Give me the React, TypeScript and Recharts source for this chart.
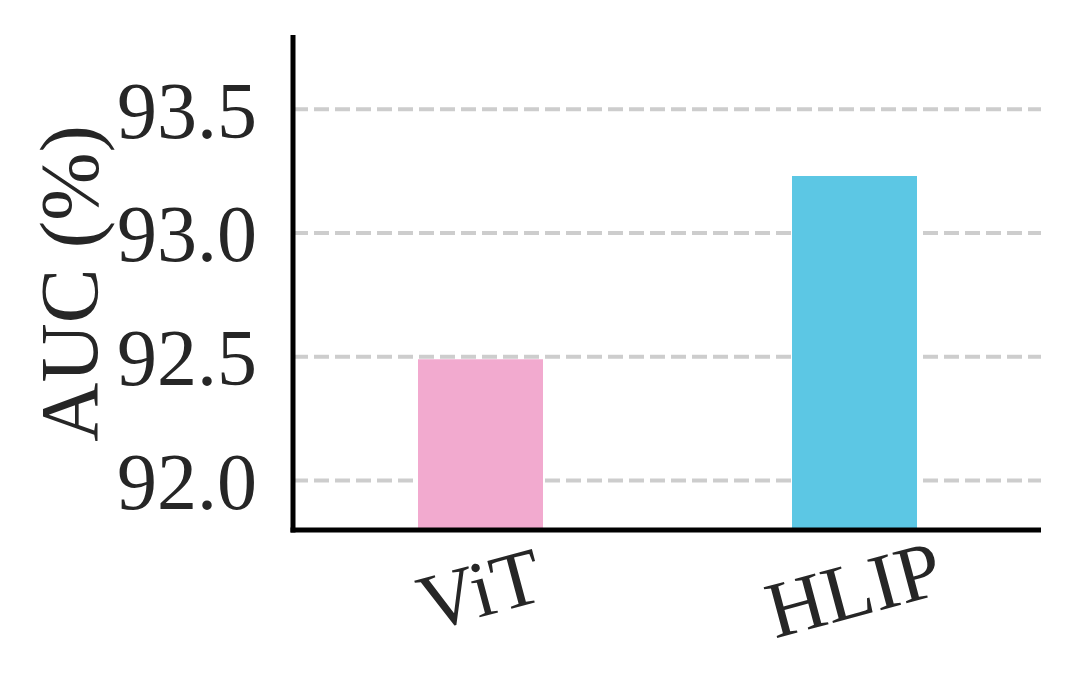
import { BarChart, Bar, XAxis, YAxis, CartesianGrid, Cell } from "recharts";

document.body.style.margin = "0";

const models = ["ViT", "HLIP"];
const aucValues = [92.49, 93.23];
const barColors = ["#F2AACF", "#5CC7E4"];
const yTicks = [92.0, 92.5, 93.0, 93.5];

const data = models.map((name, i) => ({ name, auc: aucValues[i] }));

const W = 1077;
const H = 698;
const M = { top: 35, right: 36, left: 0 };
const Y_AXIS_W = 293;
const X_AXIS_H = 168;

const FONT = "Liberation Serif, serif";
const INK = "#262626";

function XTick(props: any) {
  const { x, y, payload } = props;
  const cy = y + 60;
  return (
    <text
      x={x}
      y={cy}
      dy="0.33em"
      textAnchor="middle"
      style={{ fontFamily: FONT, fontSize: 80 }}
      fill={INK}
      transform={`rotate(-15, ${x}, ${cy})`}
    >
      {payload.value}
    </text>
  );
}

function YLabel(props: any) {
  const vb = props.viewBox || { x: 0, y: 35, width: 293, height: 495 };
  const cx = 97;
  const cy = vb.y + vb.height / 2 + 1;
  return (
    <text
      x={cx}
      y={cy}
      textAnchor="middle"
      style={{ fontFamily: FONT, fontSize: 82 }}
      fill={INK}
      transform={`rotate(-90, ${cx}, ${cy})`}
    >
      AUC (%)
    </text>
  );
}

// dashed grid line, drawn by hand so the stroke settings stick
function GridLine(props: any) {
  const { x1, y1, x2, y2 } = props;
  return (
    <line
      x1={x1}
      y1={y1}
      x2={x2}
      y2={y2}
      stroke="#cdcdcd"
      strokeWidth={4}
      strokeDasharray="15 6"
    />
  );
}

// left + bottom spines (matplotlib style), on top of the chart
function Spines() {
  const left = M.left + Y_AXIS_W;
  const top = M.top;
  const bottom = H - X_AXIS_H;
  const right = W - M.right;
  return (
    <svg
      width={W}
      height={H}
      style={{ position: "absolute", left: 0, top: 0, pointerEvents: "none" }}
    >
      <line x1={left} y1={top} x2={left} y2={bottom + 2.5} stroke="#000" strokeWidth={5} />
      <line x1={left - 2.5} y1={bottom} x2={right} y2={bottom} stroke="#000" strokeWidth={5} />
    </svg>
  );
}

export default function App() {
  return (
    <div style={{ position: "relative", width: W, height: H, background: "#fff" }}>
      <BarChart
        width={W}
        height={H}
        data={data}
        margin={{ top: M.top, right: M.right, bottom: 0, left: M.left }}
      >
        <CartesianGrid
          horizontal={GridLine}
          vertical={false}
          horizontalValues={yTicks}
        />
        <Bar dataKey="auc" barSize={125} isAnimationActive={false}>
          {data.map((d, i) => (
            <Cell key={d.name} fill={barColors[i]} />
          ))}
        </Bar>
        <XAxis
          dataKey="name"
          height={X_AXIS_H}
          axisLine={false}
          tickLine={false}
          tickSize={0}
          tickMargin={0}
          tick={<XTick />}
          interval={0}
        />
        <YAxis
          width={Y_AXIS_W}
          domain={[91.8, 93.8]}
          allowDataOverflow
          ticks={yTicks}
          tickFormatter={(v: number) => v.toFixed(1)}
          axisLine={false}
          tickLine={false}
          tickSize={0}
          tickMargin={36}
          tick={{ style: { fontFamily: FONT, fontSize: 80 }, fill: INK }}
          label={YLabel}
        />
      </BarChart>
      <Spines />
    </div>
  );
}
